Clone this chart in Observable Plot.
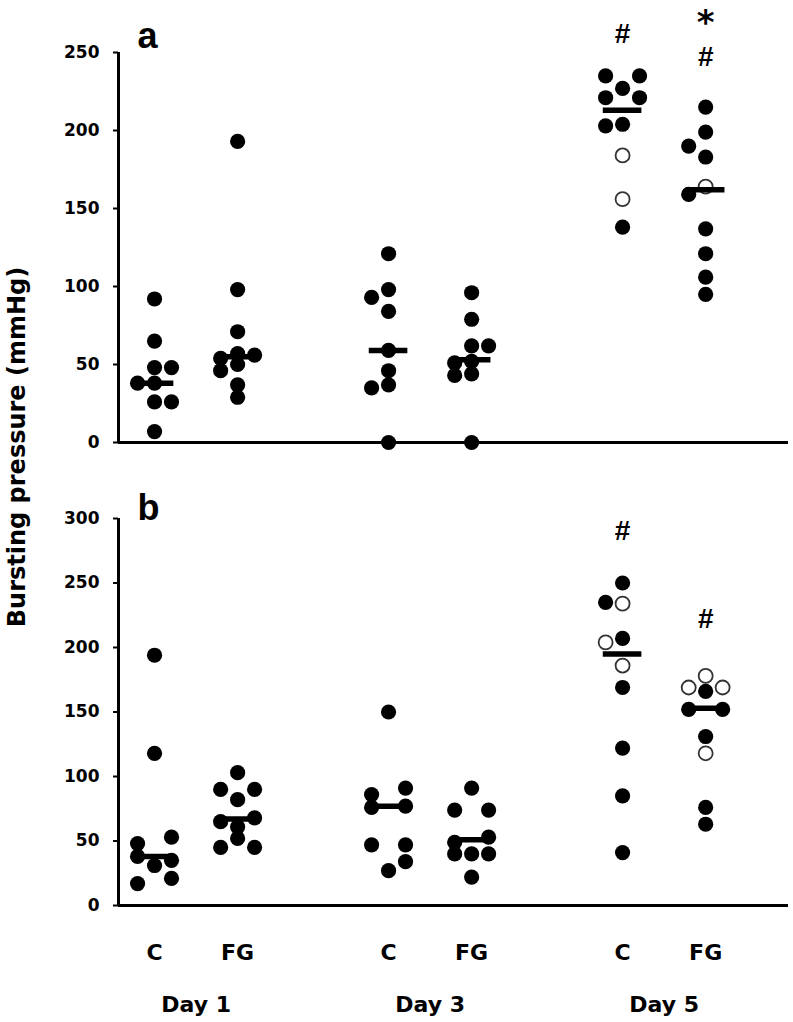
<!DOCTYPE html>
<html><head><meta charset="utf-8">
<script src="https://cdn.jsdelivr.net/npm/d3@7"></script>
<script src="https://cdn.jsdelivr.net/npm/@observablehq/plot@0.6"></script>
<style>
body{margin:0;background:#fff;}
#wrap{position:relative;width:793px;height:1022px;background:#fff;}
#wrap svg{display:block;}
#ylab{position:absolute;left:17px;top:447px;transform:translate(-50%,-50%) rotate(-90deg);font-family:"DejaVu Sans";font-weight:bold;font-size:24px;white-space:nowrap;color:#000;}
</style></head><body>
<div id="wrap"><div id="ylab">Bursting pressure (mmHg)</div></div>
<script>
// ---- categories ----
const days = [1, 3, 5];
const groups = ["C", "FG"];
const yTicksA = [0, 50, 100, 150, 200, 250];
const yTicksB = [0, 50, 100, 150, 200, 250, 300];

// ---- panel a : [value, side (-1 left, 0 centre, 1 right), open] ----
const aDay1C  = [[92,0],[65,0],[48,0],[48,1],[38,-1],[38,0],[26,0],[26,1],[7,0]];
const aDay1FG = [[193,0],[98,0],[71,0],[57,0],[56,1],[54,-1],[50,0],[46,-1],[37,0],[29,0]];
const aDay3C  = [[121,0],[98,0],[93,-1],[84,0],[59,0],[46,0],[37,0],[35,-1],[0,0]];
const aDay3FG = [[96,0],[79,0],[62,0],[62,1],[51,-1],[52,0],[43,-1],[44,0],[0,0]];
const aDay5C  = [[235,-1],[235,1],[227,0],[221,-1],[221,1],[203,-1],[204,0],[184,0,1],[156,0,1],[138,0]];
const aDay5FG = [[215,0],[199,0],[190,-1],[183,0],[164,0,1],[159,-1],[137,0],[121,0],[106,0],[95,0]];
const aMedians = [38, 55, 59, 53, 213, 162]; // C1, FG1, C3, FG3, C5, FG5
const aMarks = [["C",5,"#",262],["FG",5,"#",247],["FG",5,"*",269]];

// ---- panel b ----
const bDay1C  = [[194,0],[118,0],[53,1],[48,-1],[38,-1],[35,1],[31,0],[21,1],[17,-1]];
const bDay1FG = [[103,0],[90,-1],[90,1],[82,0],[65,-1],[68,1],[61,0],[52,0],[45,-1],[45,1]];
const bDay3C  = [[150,0],[91,1],[86,-1],[77,1],[76,-1],[47,-1],[47,1],[34,1],[27,0]];
const bDay3FG = [[91,0],[74,-1],[74,1],[53,1],[49,-1],[40,-1],[40,0],[40,1],[22,0]];
const bDay5C  = [[250,0],[235,-1],[234,0,1],[207,0],[204,-1,1],[186,0,1],[169,0],[122,0],[85,0],[41,0]];
const bDay5FG = [[178,0,1],[169,-1,1],[166,0],[169,1,1],[152,-1],[152,1],[131,0],[118,0,1],[76,0],[63,0]];
const bMedians = [38, 67, 77, 51, 195, 153];
const bMarks = [["C",5,"#",290],["FG",5,"#",222]];

// ---- helpers ----
const groupShift = {C: -0.355, FG: 0.355};
const xc = d => d.day + groupShift[d.group];
const xp = d => xc(d) + d.side * 0.145;
function rows(points, day, group) {
  return points.map(([v, side, open]) => ({day, group, v, side, open: !!open}));
}
function medRows(meds) {
  const out = [];
  days.forEach((day, i) => groups.forEach((group, j) => out.push({day, group, v: meds[i * 2 + j]})));
  return out;
}
const groupLabels = days.flatMap(day => groups.map(group => ({day, group})));
const dayLabels = days.map(day => ({day, label: "Day " + day}));

function panel({pts, meds, marks, yMax, yTicks, letter, letterDy, height, marginTop, marginBottom, bottomLabels}) {
  const anns = marks.map(([group, day, label, v]) => ({group, day, label, v, side: 0}));
  const plotMarks = [
    Plot.ruleY([0], {stroke: "black", strokeWidth: 3}),
    Plot.ruleX([0.337], {y1: 0, y2: yMax, stroke: "black", strokeWidth: 3}),
    Plot.axisY({ticks: yTicks, tickSize: 5, tickPadding: 14, fontSize: 17, fontWeight: "bold",
      fontFamily: "DejaVu Sans", strokeWidth: 2, label: null, color: "black"}),
    Plot.dot(pts.filter(d => d.open), {x: xp, y: "v", r: 7, fill: "white", stroke: "#333", strokeWidth: 1.8}),
    Plot.dot(pts.filter(d => !d.open), {x: xp, y: "v", r: 7.6, fill: "black", stroke: "none"}),
    Plot.ruleY(medRows(meds), {y: "v", x1: d => xc(d) - 0.165, x2: d => xc(d) + 0.165, stroke: "black", strokeWidth: 5.5}),
    Plot.text(anns.filter(d => d.label === "#"), {x: xp, y: "v", text: "label", fontSize: 28, fontWeight: "bold",
      fontFamily: "Liberation Sans", lineAnchor: "middle", fill: "black"}),
    Plot.text(anns.filter(d => d.label === "*"), {x: xp, y: "v", text: "label", fontSize: 34, fontWeight: "bold",
      fontFamily: "DejaVu Sans", lineAnchor: "middle", fill: "black"}),
    Plot.text([letter], {frameAnchor: "top-left", dx: 19, dy: letterDy, textAnchor: "start", lineAnchor: "middle",
      fontSize: 36, fontWeight: "bold", fontFamily: "Liberation Sans", fill: "black"})
  ];
  if (bottomLabels) {
    plotMarks.push(
      Plot.text(groupLabels, {x: xc, text: "group", frameAnchor: "bottom", dy: 47, lineAnchor: "middle",
        fontSize: 22, fontWeight: "bold", fontFamily: "DejaVu Sans", fill: "black"}),
      Plot.text(dayLabels, {x: "day", text: "label", frameAnchor: "bottom", dy: 99, lineAnchor: "middle",
        fontSize: 22, fontWeight: "bold", fontFamily: "DejaVu Sans", fill: "black"})
    );
  }
  return Plot.plot({
    width: 793, height, marginTop, marginBottom, marginLeft: 118, marginRight: 5,
    x: {domain: [0.337, 6.063], axis: null},
    y: {domain: [0, yMax]},
    style: {background: "white", color: "black", fontFamily: "DejaVu Sans", fontWeight: "bold", overflow: "visible"},
    marks: plotMarks
  });
}

const ptsA = [
  ...rows(aDay1C, 1, "C"), ...rows(aDay1FG, 1, "FG"),
  ...rows(aDay3C, 3, "C"), ...rows(aDay3FG, 3, "FG"),
  ...rows(aDay5C, 5, "C"), ...rows(aDay5FG, 5, "FG")
];
const ptsB = [
  ...rows(bDay1C, 1, "C"), ...rows(bDay1FG, 1, "FG"),
  ...rows(bDay3C, 3, "C"), ...rows(bDay3FG, 3, "FG"),
  ...rows(bDay5C, 5, "C"), ...rows(bDay5FG, 5, "FG")
];

const wrap = document.getElementById("wrap");
wrap.append(panel({pts: ptsA, meds: aMedians, marks: aMarks, yMax: 250, yTicks: yTicksA, letter: "a", letterDy: -16,
  height: 460, marginTop: 52, marginBottom: 18, bottomLabels: false}));
wrap.append(panel({pts: ptsB, meds: bMedians, marks: bMarks, yMax: 300, yTicks: yTicksB, letter: "b", letterDy: -10,
  height: 562, marginTop: 58, marginBottom: 117, bottomLabels: true}));
</script>
</body></html>
